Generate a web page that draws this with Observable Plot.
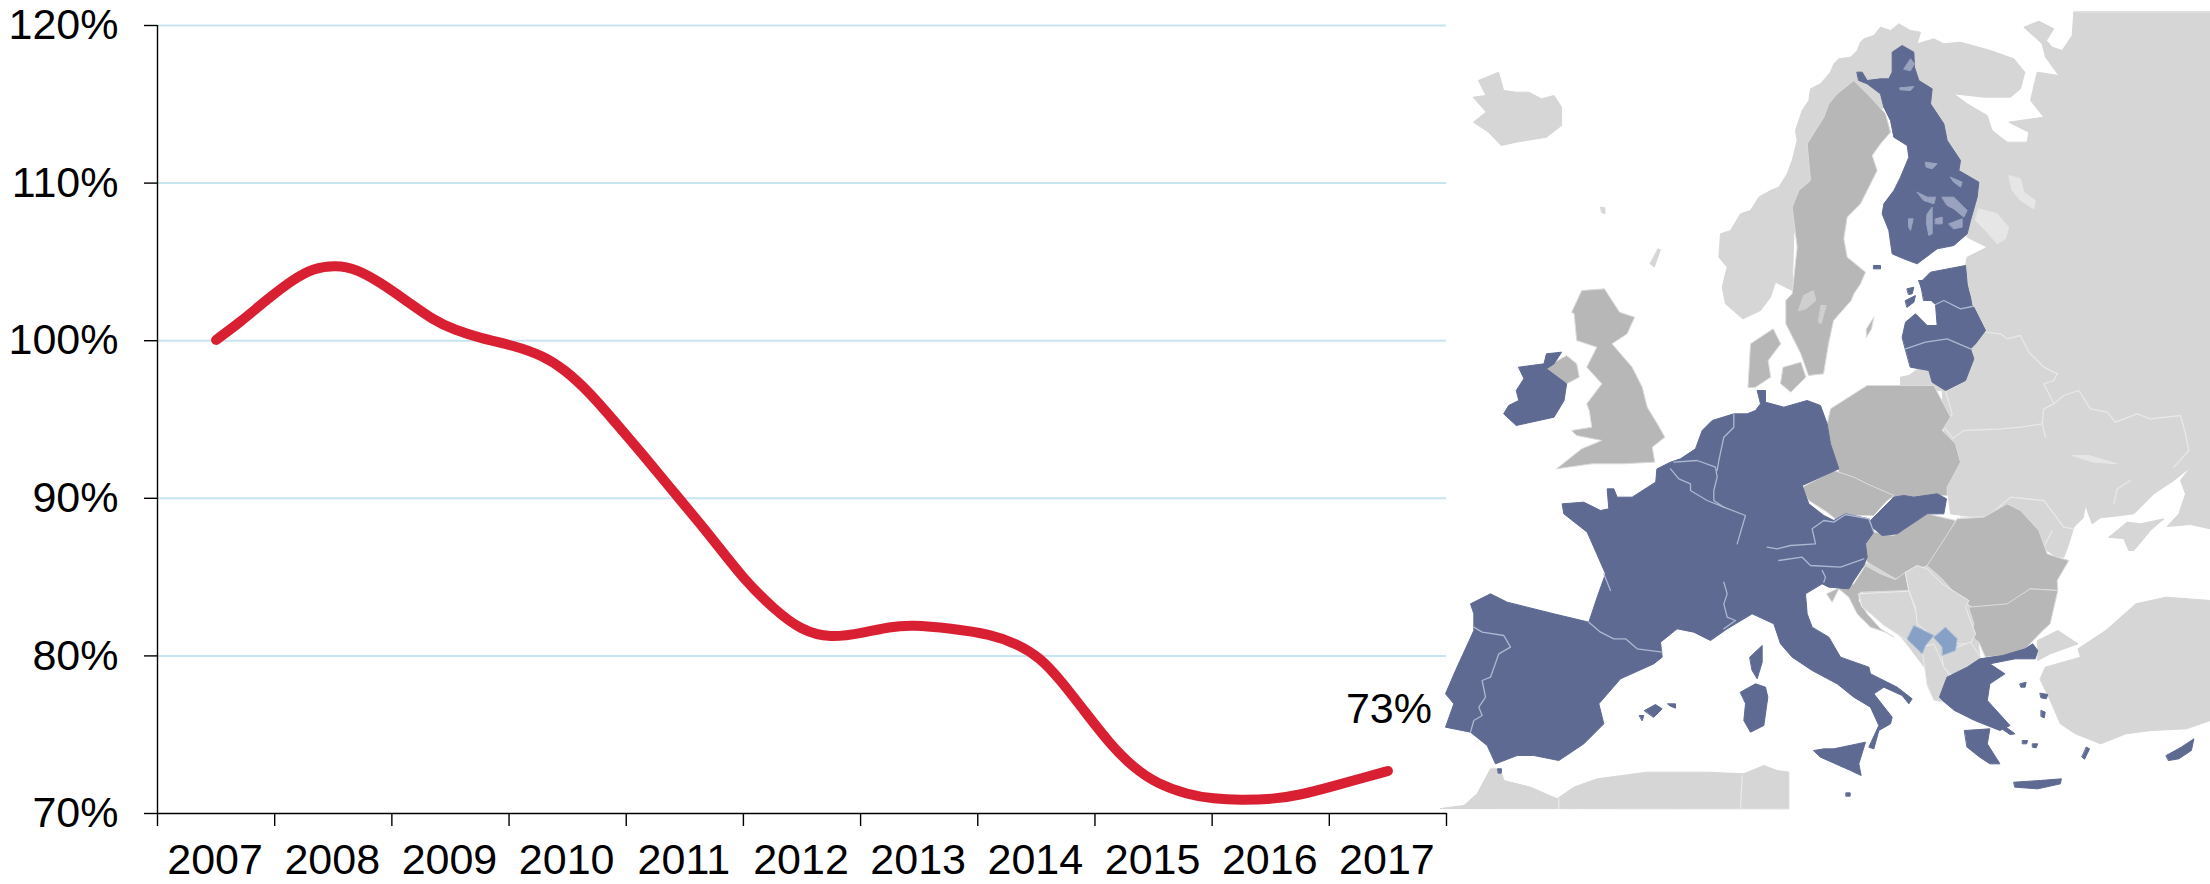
<!DOCTYPE html>
<html><head><meta charset="utf-8">
<script src="https://cdn.jsdelivr.net/npm/d3@7"></script>
<script src="https://cdn.jsdelivr.net/npm/@observablehq/plot@0.6"></script>
<style>
html,body{margin:0;padding:0;background:#fff}
#stage{position:relative;width:2210px;height:884px;overflow:hidden}
#stage svg{position:absolute;display:block;max-width:none}
</style></head><body><div id="stage"></div>
<script>
// ---- chart series
const lineYears=[2007,2007.21,2007.44,2007.66,2007.83,2008.02,2008.2,2008.4,2008.63,2008.855,2009.03,2009.26,2009.54,2009.79,2009.97,2010.19,2010.42,2010.62,2010.93,2011.22,2011.5,2011.76,2011.99,2012.24,2012.53,2012.75,2012.93,2013.27,2013.61,2013.84,2014.03,2014.2,2014.4,2014.63,2014.83,2015.03,2015.29,2015.51,2015.74,2016.02,2016.25,2016.54,2016.79,2017];
const lineValues=[100.05,101.2,102.65,103.9,104.6,104.8,104.55,103.7,102.5,101.3,100.7,100.15,99.7,99.05,98.2,96.7,94.7,92.97,90.17,87.6,84.87,82.97,81.63,81.12,81.48,81.84,81.97,81.75,81.38,80.75,79.9,78.52,76.6,74.39,72.9,71.89,71.2,70.93,70.85,70.91,71.17,71.74,72.27,72.7];
const yearLabels=[2007,2008,2009,2010,2011,2012,2013,2014,2015,2016,2017];
const bandEdges=[2006.5,2007.5,2008.5,2009.5,2010.5,2011.5,2012.5,2013.5,2014.5,2015.5,2016.5,2017.5];
const percentTicks=[70,80,90,100,110,120];

// ---- map outlines. Each group below is read in its own map window.
// window W: whole-map units
const eastLand=[2370,35,2370,1585,2310,1572,2240,1578,2275,1540,2295,1480,2280,1440,2310,1400,2260,1440,2200,1480,2140,1540,2100,1545,2040,1552,2015,1570,1995,1515,1988,1552,1960,1580,1945,1630,1930,1670,1910,1670,1740,1560,1590,1540,1580,1460,1570,1280,1565,1170,1440,1165,1440,1130,1465,1125,1500,1100,1640,940,1620,840,1635,795,1640,770,1700,740,1640,710,1590,500,1410,300,1210,500,1120,700,1115,870,1065,845,1050,890,1020,930,967,955,915,910,905,860,920,800,895,770,900,700,930,690,960,640,990,630,1015,590,1050,570,1075,560,1100,520,1115,480,1130,420,1125,390,1145,330,1165,300,1170,265,1200,250,1230,215,1240,190,1255,175,1290,170,1310,150,1320,125,1330,115,1360,105,1380,80,1410,90,1435,70,1470,90,1500,95,1490,130,1540,115,1570,130,1620,125,1710,150,1780,175,1813,215,1800,265,1770,290,1690,290,1600,280,1640,310,1700,345,1715,390,1760,425,1820,425,1825,395,1765,365,1870,350,1830,300,1850,215,1915,225,1875,170,1865,130,1810,80,1855,62,1900,85,1878,120,1895,140,1925,150,1955,105,1960,35];
const sweden=[1225,310,1250,280,1300,240,1350,290,1395,340,1410,395,1380,430,1355,465,1370,510,1355,540,1320,610,1280,650,1270,715,1280,770,1335,815,1320,850,1300,880,1292,900,1239,960,1224,1030,1209,1120,1164,1125,1141,1060,1096,970,1096,900,1115,880,1130,740,1115,620,1135,570,1170,540,1160,430,1210,350];
const gotland=[1338,985,1360,950,1353,985,1338,1010];
const vanern=[1134,930,1149,885,1179,870,1186,900,1156,925];
const vattern=[1202,915,1217,915,1202,970,1194,965];
// window N: north part of the first overview
const iceland=[105,290,130,285,115,240,155,215,165,270,190,275,215,275,240,295,265,285,280,320,280,375,250,410,190,425,160,435,135,395,105,365,130,335];
const shetland=[358,620,366,622,366,640,360,636];
const hebrid=[472,745,476,748,464,800,456,790];
const scotlandEngland=[300,935,320,870,365,865,395,935,425,950,410,1000,380,1030,420,1100,440,1160,450,1220,470,1270,485,1310,460,1340,465,1385,400,1390,340,1390,270,1405,320,1345,360,1320,310,1305,300,1290,340,1280,335,1230,330,1210,360,1150,330,1100,350,1040,310,1020,305,940];
const northernIreland=[250,1100,290,1065,310,1090,315,1130,290,1150,255,1120];
const jutland=[650,1160,655,1030,700,985,715,1030,690,1080,695,1130,665,1160];
const zealand=[720,1100,755,1085,765,1130,735,1175,715,1150];
const ireland=[195,1100,245,1090,250,1060,280,1055,265,1090,250,1105,290,1150,285,1200,265,1250,190,1275,165,1240,175,1215,195,1200,190,1170,205,1135];
// window S: south part of the first overview
const turkey=[1230,835,1240,800,1310,770,1305,745,1360,690,1420,610,1480,590,1568,600,1568,960,1520,985,1450,990,1400,1000,1350,1030,1300,1000,1270,970,1250,900];
const thrace=[1225,720,1265,690,1305,730,1250,760,1225,780];
const balkanBase=[880,490,1005,490,1100,620,1110,770,1045,825,1030,890,1000,800,960,720,880,600];
const greece=[1040,905,1030,890,1045,830,1085,800,1110,775,1155,765,1200,745,1215,730,1225,750,1220,775,1180,775,1130,790,1160,820,1130,850,1125,900,1170,975,1150,990,1100,960,1060,930];
const peloponnese=[1080,990,1130,985,1125,1030,1150,1090,1130,1090,1110,1070,1085,1040];
const crete=[1178,1145,1230,1140,1272,1135,1270,1150,1225,1165,1180,1160];
const cyprus=[1480,1065,1510,1040,1535,1015,1530,1050,1505,1075,1485,1080];
const rhodes=[1322,1040,1328,1045,1318,1076,1313,1070];
const lesbos=[1230,878,1245,882,1242,895,1232,892];
const chios=[1232,930,1240,935,1238,952,1232,948];
const evia=[1120,925,1135,950,1180,1000,1170,1002,1125,955];
const cyclades=[1195,1020,1205,1020,1203,1030,1195,1030];
const naxos=[1215,1030,1225,1030,1222,1042,1215,1040];
const thasos=[1190,850,1202,845,1200,860,1192,860];
// window A: Fennoscandia
const finland=[500,215,515,215,530,240,570,235,595,235,605,215,605,155,635,135,670,155,672,200,685,240,725,265,720,310,760,370,770,420,810,480,805,510,865,545,860,590,840,660,830,700,790,735,740,745,680,790,640,775,605,760,595,690,575,640,580,610,610,570,630,530,655,470,650,435,610,410,600,360,580,320,570,280,530,250,505,240];
const aland=[550,795,570,795,570,805,550,805];
const lakeInari=[640,205,660,175,672,190,660,210];
const lakeLapland=[628,262,670,258,660,270,630,268];
const lakeOulu=[705,485,740,490,725,505,708,500];
const lakeSaimaa=[755,590,790,590,830,630,820,650,790,625,770,615];
const lakeSaimaaSouth=[775,670,815,655,815,680,790,685];
const lakeKainuu=[780,530,815,545,810,560,790,545];
const lakeKeitele=[680,575,710,590,735,590,730,610,700,600];
const lakePaijanne=[710,640,725,620,725,700,715,705,708,670];
const lakePyha=[655,655,668,655,660,690,655,680];
const lakeMikkeli=[735,655,755,650,755,670,735,670];
const ladoga=[865,625,920,640,955,680,945,715,920,730,885,690,855,660];
const onega=[955,525,990,535,1000,575,1035,600,1030,625,990,600,965,570];
// window B: east of the Baltic
const latvia=[5,170,15,125,45,100,80,135,110,135,105,72,130,60,180,85,220,80,255,150,225,190,210,205,140,175,75,185,15,205];
const lithuania=[15,205,75,185,140,175,210,205,220,235,195,300,135,330,95,305,85,270,30,260];
const estoniaSouth=[55,0,195,0,210,50,215,78,180,85,130,60,105,72,70,40];
const saaremaa=[15,60,45,45,40,65,20,80];
const hiiumaa=[20,25,40,20,35,40,25,42];
const crimea=[625,770,680,725,720,730,790,715,750,750,700,810,685,810,670,775];
const dnieperStreak=[515,525,565,525,650,550,580,545];
// window A also holds the top of Estonia
const estoniaNorth=[690,845,720,815,825,795,830,850,840,900,700,900];
// window Z: central Europe
const poland=[560,130,570,85,680,15,880,15,930,110,905,150,945,190,960,245,920,320,920,345,880,345,820,360,770,360,690,330,650,305,600,290,585,240,570,190];
const czechia=[485,320,580,270,640,290,680,310,760,345,735,365,700,405,620,405,590,420,560,395,505,360];
const slovakia=[690,420,760,350,790,345,820,350,890,340,918,355,910,400,860,400,770,460,725,465,695,440];
const hungary=[675,490,700,455,760,465,860,400,945,420,900,510,860,555,765,595,680,545];
const romania=[860,555,915,470,950,415,1030,410,1100,370,1140,390,1195,450,1220,520,1250,530,1285,540,1250,600,1252,630,1169,625,1108,670,1000,685,975,665,945,640,900,590];
const bulgaria=[985,680,1100,670,1169,625,1252,630,1229,730,1207,750,1154,805,1086,825,1035,830,1015,785,990,765,1000,730];
const croatia=[640,610,675,555,720,580,765,597,795,575,805,630,660,635,655,660,680,700,720,745,760,770,735,755,690,740,650,700,625,650,595,625,575,665,558,640,590,625];
const bosnia=[655,640,805,632,825,690,835,730,800,780,730,735,690,700,665,680];
const serbia=[795,575,830,555,860,565,905,610,945,635,985,660,975,680,1005,760,990,790,950,790,920,745,880,770,830,730,825,680,805,630];
const montenegro=[800,775,820,735,880,765,855,795,845,820,825,800];
const kosovo=[880,770,915,740,950,775,945,810,905,825,905,800];
const macedonia=[905,825,950,800,990,785,1020,830,1000,870,935,885,910,860];
// window C: south-west
const albania=[1445,620,1480,610,1510,680,1530,710,1510,785,1480,780,1460,735];
const switzerland=[812,400,835,375,860,325,930,305,970,315,990,345,1015,360,1005,400,960,405,948,430,910,410,860,425,845,395];
const westEurope=[650,85,690,65,720,55,765,25,785,-30,815,-60,880,-80,920,-80,945,-90,960,-110,950,-150,975,-150,975,-115,1030,-100,1100,-120,1140,-105,1160,-50,1170,10,1195,85,1085,135,1105,190,1150,225,1180,240,1215,220,1285,235,1300,275,1275,310,1280,350,1270,375,1240,420,1225,445,1165,440,1145,430,1095,460,1100,520,1115,560,1165,590,1200,650,1285,680,1290,700,1370,740,1415,775,1405,790,1385,765,1330,740,1300,760,1355,830,1350,850,1315,870,1300,925,1285,920,1315,855,1290,800,1240,770,1190,730,1115,690,1055,650,1020,610,1000,550,935,520,885,550,860,565,810,600,760,575,710,565,660,605,665,650,640,670,540,715,475,790,490,850,430,910,355,960,280,945,230,945,165,970,140,915,90,875,15,860,40,790,15,760,45,690,100,570,100,520,90,490,150,460,200,485,340,520,445,545,470,470,495,400,460,320,440,275,370,220,365,190,430,185,480,210,505,205,500,145,520,145,530,170,575,170,645,125];
const sicily=[1120,930,1150,925,1180,925,1275,905,1255,970,1262,1005,1230,990,1140,950];
const sardinia=[900,755,945,730,975,740,982,770,970,855,930,875,910,840,915,790];
const corsica=[928,650,965,615,965,665,950,715,935,690];
const mallorca=[612,810,645,792,665,805,640,830];
const menorca=[682,790,705,790,705,803,690,797];
const ibiza=[597,825,610,825,605,840];
const ceuta=[172,985,183,985,182,998,174,998];
const malta=[1217,1057,1229,1057,1229,1067,1217,1067];
const africa=[0,1104,70,1095,110,1060,150,985,180,985,190,1020,270,1040,350,1075,400,1040,470,1015,620,995,800,995,910,1000,970,975,1010,990,1045,995,1045,1104];
// ---- country borders
const bPortugal=[100,560,125,575,190,585,210,620,175,640,150,710,125,720,135,770,115,800,125,825,100,840,90,875];
const bPyrenees=[445,545,480,575,520,595,555,595,590,625,665,635];
const bAlps=[850,425,860,460,850,490,860,530,885,540,850,565];
const bFranceEast=[690,85,715,115,750,130,750,150,800,180,850,200,915,225,890,310];
const bBelgium=[700,65,770,60,825,80,830,110,820,150,820,180,850,200];
const bDutch=[880,-80,880,-40,850,-10,835,60,830,90];
const bGermanAustria=[980,320,1010,325,1050,315,1125,310,1115,265,1150,240,1180,245,1215,222,1285,235];
const bAustriaItaly=[1015,360,1085,350,1110,375,1200,380,1270,355];
const bSlovenia=[1145,390,1155,410,1150,425];
const bSlovakia=[1285,235,1300,275];
const bGironde=[490,400,510,450];
const bEstonia=[105,72,130,60,180,85,215,78];
const bLatvia=[15,205,75,185,140,175,210,205];
const gBelarusEast=[255,155,300,160,320,175,360,165,385,215,430,260,470,280,460,300,430,310,460,370];
const gBelarusWest=[135,330,155,400,130,440,155,470];
const gUkraineNorth=[155,475,190,450,300,445,360,440,425,430,430,385,460,370,490,345,535,330,570,385,620,395,645,425,710,400,750,415,840,405,855,460,865,510,820,560];
const gPripyat=[425,430,435,470];
const gDon=[640,670,650,625,690,600];
const gMoldova=[180,710,260,710,330,650,430,660,490,740,520,745];
const gMoldovaSouth=[455,750,430,800,440,830,470,830];
const gAfricaOne=[355,1075,355,1104];
const gAfricaTwo=[905,1005,900,1104];

const frameW={sx:1,dx:0,dy:0},frameN={sx:1.5115,dx:0,dy:0},frameS={sx:1.5115,dx:0,dy:1200},
      frameA={sx:1,dx:810,dy:0},frameB={sx:1,dx:1440,dy:840},frameZ={sx:1,dx:660,dy:1140},frameC={sx:1,dx:60,dy:1320};
let nextId=0;
const toRows=(shapes,f)=>shapes.flatMap(flat=>{const id=nextId++;return d3.range(0,flat.length,2).map(k=>({id,x:flat[k]*f.sx+f.dx,y:flat[k+1]+f.dy}));});
const lightRows=[...toRows([eastLand],frameW),...toRows([iceland,shetland,hebrid],frameN),...toRows([turkey,thrace,balkanBase],frameS),...toRows([africa],frameC),...toRows([crimea],frameB)];
const darkRows=[...toRows([sweden,gotland],frameW),...toRows([scotlandEngland,northernIreland,jutland,zealand],frameN),...toRows([poland,czechia,hungary,romania,bulgaria,croatia],frameZ)];
const paleRows=[...toRows([bosnia,serbia,macedonia],frameZ),...toRows([albania,switzerland],frameC)];
const navyRows=[...toRows([finland,aland,estoniaNorth],frameA),...toRows([estoniaSouth,latvia,lithuania,saaremaa,hiiumaa],frameB),...toRows([ireland],frameN),...toRows([westEurope,sicily,sardinia,corsica,mallorca,menorca,ibiza,ceuta,malta],frameC),...toRows([slovakia],frameZ),...toRows([greece,peloponnese,crete,cyprus,rhodes,lesbos,chios,evia,cyclades,naxos,thasos],frameS)];
const lakeRows=toRows([lakeInari,lakeLapland,lakeOulu,lakeSaimaa,lakeSaimaaSouth,lakeKainuu,lakeKeitele,lakePaijanne,lakePyha,lakeMikkeli],frameA);
const swedishLakeRows=toRows([vanern,vattern],frameW);
const russianLakeRows=[...toRows([ladoga,onega],frameA),...toRows([dnieperStreak],frameB)];
const blueRows=toRows([montenegro,kosovo],frameZ);
const navyBorderRows=[...toRows([bEstonia,bLatvia],frameB),...toRows([bPortugal,bPyrenees,bAlps,bFranceEast,bBelgium,bDutch,bGermanAustria,bAustriaItaly,bSlovenia,bSlovakia,bGironde],frameC)];
const greyBorderRows=[...toRows([gBelarusEast,gBelarusWest,gUkraineNorth,gPripyat,gDon,gMoldova,gMoldovaSouth],frameB),...toRows([gAfricaOne,gAfricaTwo],frameC)];

const zone=(rows,fill,stroke)=>Plot.line(rows,{x:"x",y:"y",z:"id",fill,stroke:stroke||fill,strokeWidth:1,curve:"linear-closed"});
const seam=(rows,stroke,w)=>Plot.line(rows,{x:"x",y:"y",z:"id",stroke,strokeWidth:w,curve:"linear"});

const map=Plot.plot({
  width:790,height:884,margin:0,
  x:{axis:null,domain:[0,2370],range:[0,790]},
  y:{axis:null,domain:[0,2652],range:[0,884]},
  style:{background:"transparent"},
  marks:[
    zone(lightRows,"#d6d6d6"),
    seam(greyBorderRows,"#e8e8e8",1.3),
    zone(russianLakeRows,"#e6e6e6"),
    zone(darkRows,"#b7b7b7","#dcdcdc"),
    zone(swedishLakeRows,"#cfcfcf"),
    zone(paleRows,"#d6d6d6","#ececec"),
    zone(navyRows,"#5e6a92"),
    zone(lakeRows,"#99a3c0"),
    seam(navyBorderRows,"#aeb8d2",1.3),
    zone(blueRows,"#86a1c5","#a9bcd6")
  ]
});
map.style.left="1420px";map.style.top="0";

const rows=lineYears.map((year,i)=>({year,value:lineValues[i]}));
const fontSize=43;
const chart=Plot.plot({
  width:2210,height:884,
  marginLeft:157,marginRight:764,marginTop:25,marginBottom:71,
  style:{background:"transparent",fontFamily:"'Liberation Sans',Arial,sans-serif",color:"#000"},
  x:{domain:[2006.5,2017.5]},
  y:{domain:[70,120]},
  marks:[
    Plot.ruleY(percentTicks.filter(d=>d>70),{stroke:"#c8e4ee",strokeWidth:2,strokeOpacity:1}),
    Plot.ruleY([70],{stroke:"#000",strokeWidth:1.4}),
    Plot.ruleX([2006.5],{stroke:"#000",strokeWidth:1.4}),
    Plot.axisY({ticks:percentTicks,tickFormat:d=>d+"%",tickSize:13,tickPadding:26,fontSize,stroke:"#000",strokeWidth:1.4,strokeOpacity:1,label:null}),
    Plot.axisX({ticks:bandEdges,tickFormat:()=>"",tickSize:13,stroke:"#000",strokeWidth:1.4,strokeOpacity:1,label:null}),
    Plot.axisX({ticks:yearLabels,tickFormat:d=>String(d),tickSize:0,tickPadding:30,fontSize,dx:-1,label:null}),
    Plot.line(rows,{x:"year",y:"value",stroke:"#d92032",strokeWidth:10,curve:"basis",strokeLinecap:"round"}),
    Plot.text([{year:2017,value:73,label:"73%"}],{x:"year",y:"value",text:"label",fontSize,dy:-57,dx:1,fill:"#000"})
  ]
});
chart.style.left="0";chart.style.top="0";
document.getElementById("stage").append(map,chart);
</script></body></html>
